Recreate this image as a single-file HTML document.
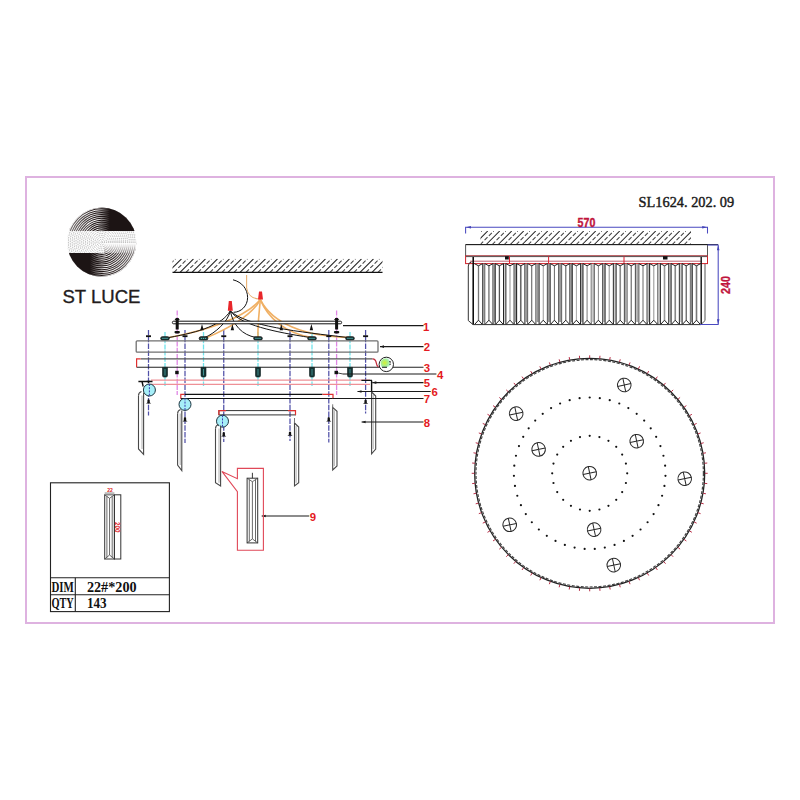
<!DOCTYPE html>
<html><head><meta charset="utf-8"><title>SL1624.202.09</title>
<style>html,body{margin:0;padding:0;background:#fff;}body{width:800px;height:800px;overflow:hidden;font-family:"Liberation Sans",sans-serif;}svg{display:block;}</style>
</head><body>
<svg width="800" height="800" viewBox="0 0 800 800"><rect x="26" y="177" width="748" height="446" fill="none" stroke="#deb2e0" stroke-width="2"/>
<defs><clipPath id="lc"><circle cx="101.7" cy="242.1" r="34.6"/></clipPath><linearGradient id="gu" x1="67" y1="0" x2="136" y2="0" gradientUnits="userSpaceOnUse"><stop offset="0" stop-color="#fff" stop-opacity="0.45"/><stop offset="0.26" stop-color="#fff" stop-opacity="0.2"/><stop offset="0.41" stop-color="#fff" stop-opacity="0"/><stop offset="1" stop-color="#fff" stop-opacity="0"/></linearGradient><linearGradient id="gd" x1="67" y1="0" x2="136" y2="0" gradientUnits="userSpaceOnUse"><stop offset="0" stop-color="#1c1414" stop-opacity="0"/><stop offset="0.435" stop-color="#1c1414" stop-opacity="0"/><stop offset="0.62" stop-color="#1c1414" stop-opacity="1"/><stop offset="1" stop-color="#1c1414" stop-opacity="1"/></linearGradient><linearGradient id="gl" x1="67" y1="0" x2="136" y2="0" gradientUnits="userSpaceOnUse"><stop offset="0" stop-color="#1c1414" stop-opacity="1"/><stop offset="0.33" stop-color="#1c1414" stop-opacity="1"/><stop offset="0.54" stop-color="#1c1414" stop-opacity="0"/><stop offset="1" stop-color="#1c1414" stop-opacity="0"/></linearGradient><linearGradient id="gl2" x1="67" y1="0" x2="136" y2="0" gradientUnits="userSpaceOnUse"><stop offset="0" stop-color="#fff" stop-opacity="0"/><stop offset="0.54" stop-color="#fff" stop-opacity="0"/><stop offset="0.77" stop-color="#fff" stop-opacity="0.2"/><stop offset="1" stop-color="#fff" stop-opacity="0.45"/></linearGradient></defs>
<g clip-path="url(#lc)">
<g><clipPath id="lu"><rect x="60" y="200" width="90" height="31"/></clipPath></g>
<g clip-path="url(#lu)"><g fill="none" stroke="#221818" stroke-width="1.12"><circle cx="101.7" cy="242.1" r="1"/><circle cx="101.7" cy="242.1" r="2.9"/><circle cx="101.7" cy="242.1" r="4.8"/><circle cx="101.7" cy="242.1" r="6.7"/><circle cx="101.7" cy="242.1" r="8.6"/><circle cx="101.7" cy="242.1" r="10.5"/><circle cx="101.7" cy="242.1" r="12.4"/><circle cx="101.7" cy="242.1" r="14.3"/><circle cx="101.7" cy="242.1" r="16.2"/><circle cx="101.7" cy="242.1" r="18.1"/><circle cx="101.7" cy="242.1" r="20"/><circle cx="101.7" cy="242.1" r="21.9"/><circle cx="101.7" cy="242.1" r="23.8"/><circle cx="101.7" cy="242.1" r="25.7"/><circle cx="101.7" cy="242.1" r="27.6"/><circle cx="101.7" cy="242.1" r="29.5"/><circle cx="101.7" cy="242.1" r="31.4"/><circle cx="101.7" cy="242.1" r="33.3"/><circle cx="101.7" cy="242.1" r="35.2"/></g><rect x="60" y="200" width="90" height="31" fill="url(#gu)"/><rect x="60" y="200" width="90" height="31" fill="url(#gd)"/></g>
<g><clipPath id="lm"><rect x="60" y="231" width="90" height="22"/></clipPath></g>
<g clip-path="url(#lm)" opacity="0.5"><g fill="none" stroke="#333" stroke-width="0.9" stroke-dasharray="0.8 0.9"><circle cx="101.7" cy="242.1" r="1"/><circle cx="101.7" cy="242.1" r="2.9"/><circle cx="101.7" cy="242.1" r="4.8"/><circle cx="101.7" cy="242.1" r="6.7"/><circle cx="101.7" cy="242.1" r="8.6"/><circle cx="101.7" cy="242.1" r="10.5"/><circle cx="101.7" cy="242.1" r="12.4"/><circle cx="101.7" cy="242.1" r="14.3"/><circle cx="101.7" cy="242.1" r="16.2"/><circle cx="101.7" cy="242.1" r="18.1"/><circle cx="101.7" cy="242.1" r="20"/><circle cx="101.7" cy="242.1" r="21.9"/><circle cx="101.7" cy="242.1" r="23.8"/><circle cx="101.7" cy="242.1" r="25.7"/><circle cx="101.7" cy="242.1" r="27.6"/><circle cx="101.7" cy="242.1" r="29.5"/><circle cx="101.7" cy="242.1" r="31.4"/><circle cx="101.7" cy="242.1" r="33.3"/><circle cx="101.7" cy="242.1" r="35.2"/></g></g>
<linearGradient id="gbr" x1="0" y1="243" x2="0" y2="253" gradientUnits="userSpaceOnUse"><stop offset="0" stop-color="#fff" stop-opacity="1"/><stop offset="0.3" stop-color="#fff" stop-opacity="0.85"/><stop offset="1" stop-color="#fff" stop-opacity="0.45"/></linearGradient>
<g><clipPath id="lbr"><rect x="104" y="243" width="40" height="10"/></clipPath></g>
<g clip-path="url(#lbr)"><g fill="none" stroke="#221818" stroke-width="1.12"><circle cx="101.7" cy="242.1" r="1"/><circle cx="101.7" cy="242.1" r="2.9"/><circle cx="101.7" cy="242.1" r="4.8"/><circle cx="101.7" cy="242.1" r="6.7"/><circle cx="101.7" cy="242.1" r="8.6"/><circle cx="101.7" cy="242.1" r="10.5"/><circle cx="101.7" cy="242.1" r="12.4"/><circle cx="101.7" cy="242.1" r="14.3"/><circle cx="101.7" cy="242.1" r="16.2"/><circle cx="101.7" cy="242.1" r="18.1"/><circle cx="101.7" cy="242.1" r="20"/><circle cx="101.7" cy="242.1" r="21.9"/><circle cx="101.7" cy="242.1" r="23.8"/><circle cx="101.7" cy="242.1" r="25.7"/><circle cx="101.7" cy="242.1" r="27.6"/><circle cx="101.7" cy="242.1" r="29.5"/><circle cx="101.7" cy="242.1" r="31.4"/><circle cx="101.7" cy="242.1" r="33.3"/><circle cx="101.7" cy="242.1" r="35.2"/></g><rect x="104" y="243" width="40" height="10" fill="url(#gbr)"/></g>
<g><clipPath id="ll"><rect x="60" y="253" width="90" height="30"/></clipPath></g>
<g clip-path="url(#ll)"><g fill="none" stroke="#221818" stroke-width="1.12"><circle cx="101.7" cy="242.1" r="1"/><circle cx="101.7" cy="242.1" r="2.9"/><circle cx="101.7" cy="242.1" r="4.8"/><circle cx="101.7" cy="242.1" r="6.7"/><circle cx="101.7" cy="242.1" r="8.6"/><circle cx="101.7" cy="242.1" r="10.5"/><circle cx="101.7" cy="242.1" r="12.4"/><circle cx="101.7" cy="242.1" r="14.3"/><circle cx="101.7" cy="242.1" r="16.2"/><circle cx="101.7" cy="242.1" r="18.1"/><circle cx="101.7" cy="242.1" r="20"/><circle cx="101.7" cy="242.1" r="21.9"/><circle cx="101.7" cy="242.1" r="23.8"/><circle cx="101.7" cy="242.1" r="25.7"/><circle cx="101.7" cy="242.1" r="27.6"/><circle cx="101.7" cy="242.1" r="29.5"/><circle cx="101.7" cy="242.1" r="31.4"/><circle cx="101.7" cy="242.1" r="33.3"/><circle cx="101.7" cy="242.1" r="35.2"/></g><rect x="60" y="253" width="90" height="30" fill="url(#gl2)"/><rect x="60" y="253" width="90" height="30" fill="url(#gl)"/></g>
</g>
<text x="62.5" y="302.5" font-family="Liberation Sans" font-size="18" fill="#231c1c" stroke="#231c1c" stroke-width="0.35" textLength="78" lengthAdjust="spacingAndGlyphs">ST LUCE</text>
<text x="638.6" y="206.8" font-family="Liberation Serif" font-size="15.6" fill="#1a1a1a" stroke="#1a1a1a" stroke-width="0.45" textLength="95.6" lengthAdjust="spacingAndGlyphs">SL1624. 202. 09</text>
<clipPath id="h2"><rect x="480.5" y="231" width="210.5" height="13.5"/></clipPath><g clip-path="url(#h2)" stroke="#222" stroke-width="1.05"><line x1="462.25" y1="244.5" x2="475.75" y2="231"/><line x1="468.25" y1="244.5" x2="481.75" y2="231" stroke-dasharray="4.2 1.9" stroke="#444"/><line x1="474.25" y1="244.5" x2="487.75" y2="231"/><line x1="480.25" y1="244.5" x2="493.75" y2="231" stroke-dasharray="4.2 1.9" stroke="#444"/><line x1="486.25" y1="244.5" x2="499.75" y2="231"/><line x1="492.25" y1="244.5" x2="505.75" y2="231" stroke-dasharray="4.2 1.9" stroke="#444"/><line x1="498.25" y1="244.5" x2="511.75" y2="231"/><line x1="504.25" y1="244.5" x2="517.75" y2="231" stroke-dasharray="4.2 1.9" stroke="#444"/><line x1="510.25" y1="244.5" x2="523.75" y2="231"/><line x1="516.25" y1="244.5" x2="529.75" y2="231" stroke-dasharray="4.2 1.9" stroke="#444"/><line x1="522.25" y1="244.5" x2="535.75" y2="231"/><line x1="528.25" y1="244.5" x2="541.75" y2="231" stroke-dasharray="4.2 1.9" stroke="#444"/><line x1="534.25" y1="244.5" x2="547.75" y2="231"/><line x1="540.25" y1="244.5" x2="553.75" y2="231" stroke-dasharray="4.2 1.9" stroke="#444"/><line x1="546.25" y1="244.5" x2="559.75" y2="231"/><line x1="552.25" y1="244.5" x2="565.75" y2="231" stroke-dasharray="4.2 1.9" stroke="#444"/><line x1="558.25" y1="244.5" x2="571.75" y2="231"/><line x1="564.25" y1="244.5" x2="577.75" y2="231" stroke-dasharray="4.2 1.9" stroke="#444"/><line x1="570.25" y1="244.5" x2="583.75" y2="231"/><line x1="576.25" y1="244.5" x2="589.75" y2="231" stroke-dasharray="4.2 1.9" stroke="#444"/><line x1="582.25" y1="244.5" x2="595.75" y2="231"/><line x1="588.25" y1="244.5" x2="601.75" y2="231" stroke-dasharray="4.2 1.9" stroke="#444"/><line x1="594.25" y1="244.5" x2="607.75" y2="231"/><line x1="600.25" y1="244.5" x2="613.75" y2="231" stroke-dasharray="4.2 1.9" stroke="#444"/><line x1="606.25" y1="244.5" x2="619.75" y2="231"/><line x1="612.25" y1="244.5" x2="625.75" y2="231" stroke-dasharray="4.2 1.9" stroke="#444"/><line x1="618.25" y1="244.5" x2="631.75" y2="231"/><line x1="624.25" y1="244.5" x2="637.75" y2="231" stroke-dasharray="4.2 1.9" stroke="#444"/><line x1="630.25" y1="244.5" x2="643.75" y2="231"/><line x1="636.25" y1="244.5" x2="649.75" y2="231" stroke-dasharray="4.2 1.9" stroke="#444"/><line x1="642.25" y1="244.5" x2="655.75" y2="231"/><line x1="648.25" y1="244.5" x2="661.75" y2="231" stroke-dasharray="4.2 1.9" stroke="#444"/><line x1="654.25" y1="244.5" x2="667.75" y2="231"/><line x1="660.25" y1="244.5" x2="673.75" y2="231" stroke-dasharray="4.2 1.9" stroke="#444"/><line x1="666.25" y1="244.5" x2="679.75" y2="231"/><line x1="672.25" y1="244.5" x2="685.75" y2="231" stroke-dasharray="4.2 1.9" stroke="#444"/><line x1="678.25" y1="244.5" x2="691.75" y2="231"/><line x1="684.25" y1="244.5" x2="697.75" y2="231" stroke-dasharray="4.2 1.9" stroke="#444"/><line x1="690.25" y1="244.5" x2="703.75" y2="231"/></g>
<rect x="465.6" y="244.6" width="241.9" height="11.4" fill="#fff" stroke="#555" stroke-width="1"/>
<line x1="466" y1="244.6" x2="718" y2="244.6" stroke="#1a1a1a" stroke-width="1"/>
<rect x="465.6" y="256" width="241.9" height="7.6" fill="#fff" stroke="#d02028" stroke-width="1"/>
<line x1="466" y1="256.6" x2="707" y2="256.6" stroke="#555" stroke-width="1"/>
<line x1="470" y1="261.2" x2="702" y2="261.2" stroke="#c06070" stroke-width="1"/>
<rect x="505" y="256.2" width="3.8" height="3.3" fill="#111"/>
<rect x="663" y="256.2" width="4.5" height="3.3" fill="#111"/>
<path d="M468.3,266 Q468.3,262.5 471.5,262 M468.3,266 L468.3,320.6 L473,324.5" fill="none" stroke="#333" stroke-width="1"/><path d="M705,264 L705,320.6 L701,324.5" fill="none" stroke="#555" stroke-width="1"/><line x1="473.2" y1="257" x2="473.2" y2="324.5" stroke="#000" stroke-width="1.5"/><line x1="701.2" y1="257" x2="701.2" y2="324.5" stroke="#111" stroke-width="1.4"/><line x1="482.65" y1="263.6" x2="482.65" y2="324.4" stroke="#444" stroke-width="1.1"/><line x1="478.5" y1="265.5" x2="478.5" y2="320.5" stroke="#777" stroke-width="1.3"/><line x1="483.7" y1="264" x2="483.7" y2="322" stroke="#999" stroke-width="1.2"/><path d="M474.35,263.6 L478.5,265.8 L482.65,263.6 M474.65,324.4 L478.5,320.2 L482.35,324.4" fill="none" stroke="#222" stroke-width="1"/><line x1="484.75" y1="263.6" x2="484.75" y2="324.4" stroke="#666" stroke-width="1.1"/><line x1="493.05" y1="263.6" x2="493.05" y2="324.4" stroke="#222" stroke-width="1.1"/><line x1="488.9" y1="265.5" x2="488.9" y2="320.5" stroke="#888" stroke-width="1.6"/><line x1="494.15" y1="264" x2="494.15" y2="322" stroke="#999" stroke-width="2.2"/><path d="M484.75,263.6 L488.9,265.8 L493.05,263.6 M485.05,324.4 L488.9,320.2 L492.75,324.4" fill="none" stroke="#222" stroke-width="1"/><line x1="495.25" y1="263.6" x2="495.25" y2="324.4" stroke="#333" stroke-width="1.1"/><line x1="503.55" y1="263.6" x2="503.55" y2="324.4" stroke="#222" stroke-width="1.1"/><line x1="499.4" y1="265.5" x2="499.4" y2="320.5" stroke="#555" stroke-width="1.3"/><line x1="504.7" y1="264" x2="504.7" y2="322" stroke="#ccc" stroke-width="1.2"/><path d="M495.25,263.6 L499.4,265.8 L503.55,263.6 M495.55,324.4 L499.4,320.2 L503.25,324.4" fill="none" stroke="#222" stroke-width="1"/><line x1="505.85" y1="263.6" x2="505.85" y2="324.4" stroke="#333" stroke-width="1.1"/><line x1="514.15" y1="263.6" x2="514.15" y2="324.4" stroke="#222" stroke-width="1.1"/><line x1="510" y1="265.5" x2="510" y2="320.5" stroke="#aaa" stroke-width="1.3"/><line x1="515.38" y1="264" x2="515.38" y2="322" stroke="#999" stroke-width="2.2"/><path d="M505.85,263.6 L510,265.8 L514.15,263.6 M506.15,324.4 L510,320.2 L513.85,324.4" fill="none" stroke="#222" stroke-width="1"/><line x1="516.6" y1="263.6" x2="516.6" y2="324.4" stroke="#222" stroke-width="1.1"/><line x1="524.9" y1="263.6" x2="524.9" y2="324.4" stroke="#333" stroke-width="1.1"/><line x1="520.75" y1="265.5" x2="520.75" y2="320.5" stroke="#666" stroke-width="1.6"/><line x1="526.25" y1="264" x2="526.25" y2="322" stroke="#999" stroke-width="2.2"/><path d="M516.6,263.6 L520.75,265.8 L524.9,263.6 M516.9,324.4 L520.75,320.2 L524.6,324.4" fill="none" stroke="#222" stroke-width="1"/><line x1="527.6" y1="263.6" x2="527.6" y2="324.4" stroke="#666" stroke-width="1.1"/><line x1="535.9" y1="263.6" x2="535.9" y2="324.4" stroke="#555" stroke-width="1.1"/><line x1="531.75" y1="265.5" x2="531.75" y2="320.5" stroke="#555" stroke-width="1"/><line x1="537.5" y1="264" x2="537.5" y2="322" stroke="#999" stroke-width="2.2"/><path d="M527.6,263.6 L531.75,265.8 L535.9,263.6 M527.9,324.4 L531.75,320.2 L535.6,324.4" fill="none" stroke="#222" stroke-width="1"/><line x1="539.1" y1="263.6" x2="539.1" y2="324.4" stroke="#333" stroke-width="1.1"/><line x1="547.4" y1="263.6" x2="547.4" y2="324.4" stroke="#444" stroke-width="1.1"/><line x1="543.25" y1="265.5" x2="543.25" y2="320.5" stroke="#999" stroke-width="1"/><line x1="548.83" y1="264" x2="548.83" y2="322" stroke="#999" stroke-width="2.2"/><path d="M539.1,263.6 L543.25,265.8 L547.4,263.6 M539.4,324.4 L543.25,320.2 L547.1,324.4" fill="none" stroke="#222" stroke-width="1"/><line x1="550.25" y1="263.6" x2="550.25" y2="324.4" stroke="#444" stroke-width="1.1"/><line x1="558.55" y1="263.6" x2="558.55" y2="324.4" stroke="#666" stroke-width="1.1"/><line x1="554.4" y1="265.5" x2="554.4" y2="320.5" stroke="#666" stroke-width="1"/><line x1="560.08" y1="264" x2="560.08" y2="322" stroke="#999" stroke-width="2.2"/><path d="M550.25,263.6 L554.4,265.8 L558.55,263.6 M550.55,324.4 L554.4,320.2 L558.25,324.4" fill="none" stroke="#222" stroke-width="1"/><line x1="561.6" y1="263.6" x2="561.6" y2="324.4" stroke="#666" stroke-width="1.1"/><line x1="569.9" y1="263.6" x2="569.9" y2="324.4" stroke="#2a2a2a" stroke-width="1.1"/><line x1="565.75" y1="265.5" x2="565.75" y2="320.5" stroke="#777" stroke-width="1.3"/><line x1="571.08" y1="264" x2="571.08" y2="322" stroke="#999" stroke-width="2.2"/><path d="M561.6,263.6 L565.75,265.8 L569.9,263.6 M561.9,324.4 L565.75,320.2 L569.6,324.4" fill="none" stroke="#222" stroke-width="1"/><line x1="572.25" y1="263.6" x2="572.25" y2="324.4" stroke="#2a2a2a" stroke-width="1.1"/><line x1="580.55" y1="263.6" x2="580.55" y2="324.4" stroke="#222" stroke-width="1.1"/><line x1="576.4" y1="265.5" x2="576.4" y2="320.5" stroke="#aaa" stroke-width="1"/><line x1="581.75" y1="264" x2="581.75" y2="322" stroke="#aaa" stroke-width="1.8"/><path d="M572.25,263.6 L576.4,265.8 L580.55,263.6 M572.55,324.4 L576.4,320.2 L580.25,324.4" fill="none" stroke="#222" stroke-width="1"/><line x1="582.95" y1="263.6" x2="582.95" y2="324.4" stroke="#2a2a2a" stroke-width="1.1"/><line x1="591.25" y1="263.6" x2="591.25" y2="324.4" stroke="#666" stroke-width="1.1"/><line x1="587.1" y1="265.5" x2="587.1" y2="320.5" stroke="#999" stroke-width="1.3"/><line x1="592.75" y1="264" x2="592.75" y2="322" stroke="#ccc" stroke-width="2.2"/><path d="M582.95,263.6 L587.1,265.8 L591.25,263.6 M583.25,324.4 L587.1,320.2 L590.95,324.4" fill="none" stroke="#222" stroke-width="1"/><line x1="594.25" y1="263.6" x2="594.25" y2="324.4" stroke="#555" stroke-width="1.1"/><line x1="602.55" y1="263.6" x2="602.55" y2="324.4" stroke="#444" stroke-width="1.1"/><line x1="598.4" y1="265.5" x2="598.4" y2="320.5" stroke="#888" stroke-width="1"/><line x1="603.83" y1="264" x2="603.83" y2="322" stroke="#aaa" stroke-width="2.2"/><path d="M594.25,263.6 L598.4,265.8 L602.55,263.6 M594.55,324.4 L598.4,320.2 L602.25,324.4" fill="none" stroke="#222" stroke-width="1"/><line x1="605.1" y1="263.6" x2="605.1" y2="324.4" stroke="#333" stroke-width="1.1"/><line x1="613.4" y1="263.6" x2="613.4" y2="324.4" stroke="#222" stroke-width="1.1"/><line x1="609.25" y1="265.5" x2="609.25" y2="320.5" stroke="#aaa" stroke-width="1.3"/><line x1="614.75" y1="264" x2="614.75" y2="322" stroke="#ccc" stroke-width="1.8"/><path d="M605.1,263.6 L609.25,265.8 L613.4,263.6 M605.4,324.4 L609.25,320.2 L613.1,324.4" fill="none" stroke="#222" stroke-width="1"/><line x1="616.1" y1="263.6" x2="616.1" y2="324.4" stroke="#2a2a2a" stroke-width="1.1"/><line x1="624.4" y1="263.6" x2="624.4" y2="324.4" stroke="#555" stroke-width="1.1"/><line x1="620.25" y1="265.5" x2="620.25" y2="320.5" stroke="#888" stroke-width="1.6"/><line x1="625.75" y1="264" x2="625.75" y2="322" stroke="#999" stroke-width="1.2"/><path d="M616.1,263.6 L620.25,265.8 L624.4,263.6 M616.4,324.4 L620.25,320.2 L624.1,324.4" fill="none" stroke="#222" stroke-width="1"/><line x1="627.1" y1="263.6" x2="627.1" y2="324.4" stroke="#666" stroke-width="1.1"/><line x1="635.4" y1="263.6" x2="635.4" y2="324.4" stroke="#555" stroke-width="1.1"/><line x1="631.25" y1="265.5" x2="631.25" y2="320.5" stroke="#777" stroke-width="1.3"/><line x1="637.12" y1="264" x2="637.12" y2="322" stroke="#aaa" stroke-width="1.8"/><path d="M627.1,263.6 L631.25,265.8 L635.4,263.6 M627.4,324.4 L631.25,320.2 L635.1,324.4" fill="none" stroke="#222" stroke-width="1"/><line x1="638.85" y1="263.6" x2="638.85" y2="324.4" stroke="#555" stroke-width="1.1"/><line x1="647.15" y1="263.6" x2="647.15" y2="324.4" stroke="#222" stroke-width="1.1"/><line x1="643" y1="265.5" x2="643" y2="320.5" stroke="#666" stroke-width="1"/><line x1="648.38" y1="264" x2="648.38" y2="322" stroke="#bbb" stroke-width="1.8"/><path d="M638.85,263.6 L643,265.8 L647.15,263.6 M639.15,324.4 L643,320.2 L646.85,324.4" fill="none" stroke="#222" stroke-width="1"/><line x1="649.6" y1="263.6" x2="649.6" y2="324.4" stroke="#2a2a2a" stroke-width="1.1"/><line x1="657.9" y1="263.6" x2="657.9" y2="324.4" stroke="#444" stroke-width="1.1"/><line x1="653.75" y1="265.5" x2="653.75" y2="320.5" stroke="#aaa" stroke-width="1.3"/><line x1="659.12" y1="264" x2="659.12" y2="322" stroke="#ccc" stroke-width="1.2"/><path d="M649.6,263.6 L653.75,265.8 L657.9,263.6 M649.9,324.4 L653.75,320.2 L657.6,324.4" fill="none" stroke="#222" stroke-width="1"/><line x1="660.35" y1="263.6" x2="660.35" y2="324.4" stroke="#222" stroke-width="1.1"/><line x1="668.65" y1="263.6" x2="668.65" y2="324.4" stroke="#444" stroke-width="1.1"/><line x1="664.5" y1="265.5" x2="664.5" y2="320.5" stroke="#999" stroke-width="1.6"/><line x1="669.88" y1="264" x2="669.88" y2="322" stroke="#999" stroke-width="1.2"/><path d="M660.35,263.6 L664.5,265.8 L668.65,263.6 M660.65,324.4 L664.5,320.2 L668.35,324.4" fill="none" stroke="#222" stroke-width="1"/><line x1="671.1" y1="263.6" x2="671.1" y2="324.4" stroke="#2a2a2a" stroke-width="1.1"/><line x1="679.4" y1="263.6" x2="679.4" y2="324.4" stroke="#2a2a2a" stroke-width="1.1"/><line x1="675.25" y1="265.5" x2="675.25" y2="320.5" stroke="#888" stroke-width="1.6"/><line x1="680.75" y1="264" x2="680.75" y2="322" stroke="#ccc" stroke-width="1.8"/><path d="M671.1,263.6 L675.25,265.8 L679.4,263.6 M671.4,324.4 L675.25,320.2 L679.1,324.4" fill="none" stroke="#222" stroke-width="1"/><line x1="682.1" y1="263.6" x2="682.1" y2="324.4" stroke="#2a2a2a" stroke-width="1.1"/><line x1="690.4" y1="263.6" x2="690.4" y2="324.4" stroke="#555" stroke-width="1.1"/><line x1="686.25" y1="265.5" x2="686.25" y2="320.5" stroke="#666" stroke-width="1.3"/><line x1="691.38" y1="264" x2="691.38" y2="322" stroke="#999" stroke-width="1.8"/><path d="M682.1,263.6 L686.25,265.8 L690.4,263.6 M682.4,324.4 L686.25,320.2 L690.1,324.4" fill="none" stroke="#222" stroke-width="1"/><line x1="692.35" y1="263.6" x2="692.35" y2="324.4" stroke="#444" stroke-width="1.1"/><line x1="696.5" y1="265.5" x2="696.5" y2="320.5" stroke="#777" stroke-width="1.6"/><path d="M692.35,263.6 L696.5,265.8 L700.65,263.6 M692.65,324.4 L696.5,320.2 L700.35,324.4" fill="none" stroke="#222" stroke-width="1"/><line x1="473" y1="324.6" x2="701" y2="324.6" stroke="#333" stroke-width="1"/>
<path d="M509.5,256.5 V263 M548.6,256.5 V263 M624,256.5 V263" stroke="#e02030" stroke-width="1"/>
<g stroke="#4a4ac0" stroke-width="1.05" fill="none"><path d="M465.6,233.5 L465.6,227.3 L707.5,227.3 L707.5,233.5"/><path d="M707.5,245 L718.2,245 L718.2,324.5 L700,324.5"/></g>
<path d="M466,227.3 l5,-1.3 l0,2.6z M707.2,227.3 l-5,-1.3 l0,2.6z M718.2,245.3 l-1.3,5 l2.6,0z M718.2,324.2 l-1.3,-5 l2.6,0z" fill="#4444b8"/>
<text x="586.5" y="227" text-anchor="middle" font-family="Liberation Sans" font-weight="bold" font-size="12.4" fill="#c0143c" stroke="#c0143c" stroke-width="0.35" textLength="17.8" lengthAdjust="spacingAndGlyphs">570</text>
<text transform="translate(730.2,285) rotate(-90)" text-anchor="middle" font-family="Liberation Sans" font-weight="bold" font-size="12.4" fill="#c0143c" stroke="#c0143c" stroke-width="0.35" textLength="18" lengthAdjust="spacingAndGlyphs">240</text>
<circle cx="589.7" cy="473.3" r="115" fill="none" stroke="#222" stroke-width="1.3"/>
<circle cx="589.7" cy="473.3" r="113.7" fill="none" stroke="#444" stroke-width="1.2" stroke-dasharray="3 1.5"/>
<path d="M704.9,473.3L707.7,473.3M704.46,483.34L707.25,483.58M703.15,493.3L705.91,493.79M700.97,503.12L703.68,503.84M697.95,512.7L700.58,513.66M694.11,521.99L696.64,523.17M689.47,530.9L691.89,532.3M684.07,539.38L686.36,540.98M677.95,547.35L680.09,549.15M671.16,554.76L673.14,556.74M663.75,561.55L665.55,563.69M655.78,567.67L657.38,569.96M647.3,573.07L648.7,575.49M638.39,577.71L639.57,580.24M629.1,581.55L630.06,584.18M619.52,584.57L620.24,587.28M609.7,586.75L610.19,589.51M599.74,588.06L599.98,590.85M589.7,588.5L589.7,591.3M579.66,588.06L579.42,590.85M569.7,586.75L569.21,589.51M559.88,584.57L559.16,587.28M550.3,581.55L549.34,584.18M541.01,577.71L539.83,580.24M532.1,573.07L530.7,575.49M523.62,567.67L522.02,569.96M515.65,561.55L513.85,563.69M508.24,554.76L506.26,556.74M501.45,547.35L499.31,549.15M495.33,539.38L493.04,540.98M489.93,530.9L487.51,532.3M485.29,521.99L482.76,523.17M481.45,512.7L478.82,513.66M478.43,503.12L475.72,503.84M476.25,493.3L473.49,493.79M474.94,483.34L472.15,483.58M474.5,473.3L471.7,473.3M474.94,463.26L472.15,463.02M476.25,453.3L473.49,452.81M478.43,443.48L475.72,442.76M481.45,433.9L478.82,432.94M485.29,424.61L482.76,423.43M489.93,415.7L487.51,414.3M495.33,407.22L493.04,405.62M501.45,399.25L499.31,397.45M508.24,391.84L506.26,389.86M515.65,385.05L513.85,382.91M523.62,378.93L522.02,376.64M532.1,373.53L530.7,371.11M541.01,368.89L539.83,366.36M550.3,365.05L549.34,362.42M559.88,362.03L559.16,359.32M569.7,359.85L569.21,357.09M579.66,358.54L579.42,355.75M589.7,358.1L589.7,355.3M599.74,358.54L599.98,355.75M609.7,359.85L610.19,357.09M619.52,362.03L620.24,359.32M629.1,365.05L630.06,362.42M638.39,368.89L639.57,366.36M647.3,373.53L648.7,371.11M655.78,378.93L657.38,376.64M663.75,385.05L665.55,382.91M671.16,391.84L673.14,389.86M677.95,399.25L680.09,397.45M684.07,407.22L686.36,405.62M689.47,415.7L691.89,414.3M694.11,424.61L696.64,423.43M697.95,433.9L700.58,432.94M700.97,443.48L703.68,442.76M703.15,453.3L705.91,452.81M704.46,463.26L707.25,463.02" stroke="#b83048" stroke-width="1" fill="none"/>
<g fill="#111"><circle cx="589.7" cy="435.8" r="1.1"/><circle cx="599.41" cy="437.08" r="1.1"/><circle cx="608.45" cy="440.82" r="1.1"/><circle cx="616.22" cy="446.78" r="1.1"/><circle cx="622.18" cy="454.55" r="1.1"/><circle cx="625.92" cy="463.59" r="1.1"/><circle cx="627.2" cy="473.3" r="1.1"/><circle cx="625.92" cy="483.01" r="1.1"/><circle cx="622.18" cy="492.05" r="1.1"/><circle cx="616.22" cy="499.82" r="1.1"/><circle cx="608.45" cy="505.78" r="1.1"/><circle cx="599.41" cy="509.52" r="1.1"/><circle cx="589.7" cy="510.8" r="1.1"/><circle cx="579.99" cy="509.52" r="1.1"/><circle cx="570.95" cy="505.78" r="1.1"/><circle cx="563.18" cy="499.82" r="1.1"/><circle cx="557.22" cy="492.05" r="1.1"/><circle cx="553.48" cy="483.01" r="1.1"/><circle cx="552.2" cy="473.3" r="1.1"/><circle cx="553.48" cy="463.59" r="1.1"/><circle cx="557.22" cy="454.55" r="1.1"/><circle cx="563.18" cy="446.78" r="1.1"/><circle cx="570.95" cy="440.82" r="1.1"/><circle cx="579.99" cy="437.08" r="1.1"/><circle cx="589.7" cy="397.5" r="1.1"/><circle cx="599.8" cy="398.18" r="1.1"/><circle cx="609.73" cy="400.19" r="1.1"/><circle cx="619.29" cy="403.51" r="1.1"/><circle cx="628.33" cy="408.08" r="1.1"/><circle cx="636.68" cy="413.81" r="1.1"/><circle cx="644.19" cy="420.6" r="1.1"/><circle cx="650.72" cy="428.34" r="1.1"/><circle cx="656.17" cy="436.87" r="1.1"/><circle cx="660.44" cy="446.06" r="1.1"/><circle cx="663.44" cy="455.73" r="1.1"/><circle cx="665.12" cy="465.71" r="1.1"/><circle cx="665.46" cy="475.83" r="1.1"/><circle cx="664.44" cy="485.91" r="1.1"/><circle cx="662.1" cy="495.76" r="1.1"/><circle cx="658.46" cy="505.21" r="1.1"/><circle cx="653.59" cy="514.09" r="1.1"/><circle cx="647.58" cy="522.24" r="1.1"/><circle cx="640.55" cy="529.52" r="1.1"/><circle cx="632.6" cy="535.79" r="1.1"/><circle cx="623.89" cy="540.95" r="1.1"/><circle cx="614.56" cy="544.91" r="1.1"/><circle cx="604.8" cy="547.58" r="1.1"/><circle cx="594.76" cy="548.93" r="1.1"/><circle cx="584.64" cy="548.93" r="1.1"/><circle cx="574.6" cy="547.58" r="1.1"/><circle cx="564.84" cy="544.91" r="1.1"/><circle cx="555.51" cy="540.95" r="1.1"/><circle cx="546.8" cy="535.79" r="1.1"/><circle cx="538.85" cy="529.52" r="1.1"/><circle cx="531.82" cy="522.24" r="1.1"/><circle cx="525.81" cy="514.09" r="1.1"/><circle cx="520.94" cy="505.21" r="1.1"/><circle cx="517.3" cy="495.76" r="1.1"/><circle cx="514.96" cy="485.91" r="1.1"/><circle cx="513.94" cy="475.83" r="1.1"/><circle cx="514.28" cy="465.71" r="1.1"/><circle cx="515.96" cy="455.73" r="1.1"/><circle cx="518.96" cy="446.06" r="1.1"/><circle cx="523.23" cy="436.87" r="1.1"/><circle cx="528.68" cy="428.34" r="1.1"/><circle cx="535.21" cy="420.6" r="1.1"/><circle cx="542.72" cy="413.81" r="1.1"/><circle cx="551.07" cy="408.08" r="1.1"/><circle cx="560.11" cy="403.51" r="1.1"/><circle cx="569.67" cy="400.19" r="1.1"/><circle cx="579.6" cy="398.18" r="1.1"/></g>
<g fill="none" stroke="#2a2a2a" stroke-width="1"><g transform="translate(624.3,385) rotate(-12)"><circle r="6.8"/><path d="M0,-6.8V6.8M-6.8,0H6.8"/></g><g transform="translate(516.2,413.6) rotate(-12)"><circle r="6.8"/><path d="M0,-6.8V6.8M-6.8,0H6.8"/></g><g transform="translate(636.7,441.2) rotate(-12)"><circle r="6.8"/><path d="M0,-6.8V6.8M-6.8,0H6.8"/></g><g transform="translate(538.6,449.4) rotate(-12)"><circle r="6.8"/><path d="M0,-6.8V6.8M-6.8,0H6.8"/></g><g transform="translate(589.7,473.2) rotate(-12)"><circle r="6.8"/><path d="M0,-6.8V6.8M-6.8,0H6.8"/></g><g transform="translate(684.7,478.7) rotate(-12)"><circle r="6.8"/><path d="M0,-6.8V6.8M-6.8,0H6.8"/></g><g transform="translate(509.7,524.8) rotate(-12)"><circle r="6.8"/><path d="M0,-6.8V6.8M-6.8,0H6.8"/></g><g transform="translate(594.1,529.6) rotate(-12)"><circle r="6.8"/><path d="M0,-6.8V6.8M-6.8,0H6.8"/></g><g transform="translate(613.8,565.1) rotate(-12)"><circle r="6.8"/><path d="M0,-6.8V6.8M-6.8,0H6.8"/></g></g>
<clipPath id="h1"><rect x="172.5" y="258.8" width="210" height="13.5"/></clipPath><g clip-path="url(#h1)" stroke="#222" stroke-width="1.05"><line x1="156" y1="272.3" x2="169.5" y2="258.8"/><line x1="162" y1="272.3" x2="175.5" y2="258.8" stroke-dasharray="4.2 1.9" stroke="#444"/><line x1="168" y1="272.3" x2="181.5" y2="258.8"/><line x1="174" y1="272.3" x2="187.5" y2="258.8" stroke-dasharray="4.2 1.9" stroke="#444"/><line x1="180" y1="272.3" x2="193.5" y2="258.8"/><line x1="186" y1="272.3" x2="199.5" y2="258.8" stroke-dasharray="4.2 1.9" stroke="#444"/><line x1="192" y1="272.3" x2="205.5" y2="258.8"/><line x1="198" y1="272.3" x2="211.5" y2="258.8" stroke-dasharray="4.2 1.9" stroke="#444"/><line x1="204" y1="272.3" x2="217.5" y2="258.8"/><line x1="210" y1="272.3" x2="223.5" y2="258.8" stroke-dasharray="4.2 1.9" stroke="#444"/><line x1="216" y1="272.3" x2="229.5" y2="258.8"/><line x1="222" y1="272.3" x2="235.5" y2="258.8" stroke-dasharray="4.2 1.9" stroke="#444"/><line x1="228" y1="272.3" x2="241.5" y2="258.8"/><line x1="234" y1="272.3" x2="247.5" y2="258.8" stroke-dasharray="4.2 1.9" stroke="#444"/><line x1="240" y1="272.3" x2="253.5" y2="258.8"/><line x1="246" y1="272.3" x2="259.5" y2="258.8" stroke-dasharray="4.2 1.9" stroke="#444"/><line x1="252" y1="272.3" x2="265.5" y2="258.8"/><line x1="258" y1="272.3" x2="271.5" y2="258.8" stroke-dasharray="4.2 1.9" stroke="#444"/><line x1="264" y1="272.3" x2="277.5" y2="258.8"/><line x1="270" y1="272.3" x2="283.5" y2="258.8" stroke-dasharray="4.2 1.9" stroke="#444"/><line x1="276" y1="272.3" x2="289.5" y2="258.8"/><line x1="282" y1="272.3" x2="295.5" y2="258.8" stroke-dasharray="4.2 1.9" stroke="#444"/><line x1="288" y1="272.3" x2="301.5" y2="258.8"/><line x1="294" y1="272.3" x2="307.5" y2="258.8" stroke-dasharray="4.2 1.9" stroke="#444"/><line x1="300" y1="272.3" x2="313.5" y2="258.8"/><line x1="306" y1="272.3" x2="319.5" y2="258.8" stroke-dasharray="4.2 1.9" stroke="#444"/><line x1="312" y1="272.3" x2="325.5" y2="258.8"/><line x1="318" y1="272.3" x2="331.5" y2="258.8" stroke-dasharray="4.2 1.9" stroke="#444"/><line x1="324" y1="272.3" x2="337.5" y2="258.8"/><line x1="330" y1="272.3" x2="343.5" y2="258.8" stroke-dasharray="4.2 1.9" stroke="#444"/><line x1="336" y1="272.3" x2="349.5" y2="258.8"/><line x1="342" y1="272.3" x2="355.5" y2="258.8" stroke-dasharray="4.2 1.9" stroke="#444"/><line x1="348" y1="272.3" x2="361.5" y2="258.8"/><line x1="354" y1="272.3" x2="367.5" y2="258.8" stroke-dasharray="4.2 1.9" stroke="#444"/><line x1="360" y1="272.3" x2="373.5" y2="258.8"/><line x1="366" y1="272.3" x2="379.5" y2="258.8" stroke-dasharray="4.2 1.9" stroke="#444"/><line x1="372" y1="272.3" x2="385.5" y2="258.8"/><line x1="378" y1="272.3" x2="391.5" y2="258.8" stroke-dasharray="4.2 1.9" stroke="#444"/><line x1="384" y1="272.3" x2="397.5" y2="258.8"/></g>
<line x1="172.5" y1="272.3" x2="382.5" y2="272.3" stroke="#111" stroke-width="1.3"/>
<g stroke="#70e4ec" stroke-width="1.3" stroke-dasharray="5 1.2"><line x1="165" y1="332" x2="165" y2="386"/><line x1="203.5" y1="332" x2="203.5" y2="386"/><line x1="258" y1="332" x2="258" y2="386"/><line x1="312" y1="332" x2="312" y2="386"/><line x1="350" y1="332" x2="350" y2="386"/></g>
<g stroke="#5050a8" stroke-width="1.25" stroke-dasharray="5.5 1.3"><line x1="148.5" y1="330" x2="148.5" y2="415.6"/><line x1="185" y1="330" x2="185" y2="443"/><line x1="223.75" y1="330" x2="223.75" y2="442"/><line x1="290" y1="330" x2="290" y2="441"/><line x1="328.8" y1="330" x2="328.8" y2="442.5"/><line x1="365.6" y1="330" x2="365.6" y2="413.5"/></g>
<g stroke="#e086e4" stroke-width="1.3" stroke-dasharray="5 1.2"><line x1="177.2" y1="310.5" x2="177.2" y2="395"/><line x1="336.6" y1="310.5" x2="336.6" y2="395"/></g>
<path d="M233,279.8 C242,282 247.6,289 247.6,297.5 C247.6,306 241,312.3 233.5,312.3" fill="none" stroke="#111" stroke-width="1"/><path d="M246.6,275 L246.6,288 C247.5,294 252,298.5 259,299" fill="none" stroke="#e8b070" stroke-width="1.1"/><path d="M260.3,299.6 C245,318 205,331 169,337.5" fill="none" stroke="#f0b064" stroke-width="1.6"/><path d="M260.3,299.6 C252,316 225,330 207,337.5" fill="none" stroke="#f0b064" stroke-width="1.6"/><path d="M260.3,299.6 C259,315 257.5,325 258,337.5" fill="none" stroke="#f0b064" stroke-width="1.6"/><path d="M260.3,299.6 C268,318 285,333 312,337.5" fill="none" stroke="#f0b064" stroke-width="1.6"/><path d="M260.3,299.6 C272,322 300,336 350,337.5" fill="none" stroke="#f0b064" stroke-width="1.6"/><path d="M230.3,310.8 C222,325 200,332 169,337.5" fill="none" stroke="#151515" stroke-width="1"/><path d="M230.3,310.8 C228,322 215,333 205,337.5" fill="none" stroke="#151515" stroke-width="1"/><path d="M230.3,310.8 C233,325 242,335 256,337.5" fill="none" stroke="#151515" stroke-width="1"/><path d="M230.3,310.8 C240,325 275,332 310,337.5" fill="none" stroke="#151515" stroke-width="1"/><path d="M230.3,310.8 C245,326 300,332 348,337.5" fill="none" stroke="#151515" stroke-width="1"/>
<path d="M228.8,301 L231.8,301 L232.8,310.8 L227.8,310.8Z M259,291.6 L262,291.6 L263,299.6 L258,299.6Z" fill="#e8262a"/>
<rect x="172.4" y="321.2" width="169.2" height="2.6" rx="1.2" fill="#fff" stroke="#111" stroke-width="1"/>
<g fill="#111"><path d="M202,324 L200.3,330.3 L203.7,330.3Z"/><path d="M232.4,324 L230.7,330.3 L234.1,330.3Z"/><path d="M281.3,324 L279.6,330.3 L283,330.3Z"/><path d="M311.4,324 L309.7,330.3 L313.1,330.3Z"/></g>
<g fill="#111"><rect x="175.7" y="318" width="3" height="11.5" /><path d="M174.5,320 Q177.2,315.8 179.9,320Z"/><rect x="174.5" y="331" width="5.4" height="2.4" rx="1.1"/></g>
<g fill="#111"><rect x="335.1" y="318" width="3" height="11.5" /><path d="M333.9,320 Q336.6,315.8 339.3,320Z"/><rect x="333.9" y="331" width="5.4" height="2.4" rx="1.1"/></g>
<g fill="#111"><rect x="146" y="335.3" width="5" height="1.8"/><rect x="182.5" y="335.3" width="5" height="1.8"/><rect x="221.25" y="335.3" width="5" height="1.8"/><rect x="287.5" y="335.3" width="5" height="1.8"/><rect x="326.3" y="335.3" width="5" height="1.8"/><rect x="363.1" y="335.3" width="5" height="1.8"/></g>
<g><rect x="160.7" y="336.7" width="8.6" height="3.4" rx="1.6" fill="#1c3c3c" stroke="#111" stroke-width="0.8"/><line x1="162.4" y1="338.4" x2="167.6" y2="338.4" stroke="#6fe0e0" stroke-width="0.8" stroke-dasharray="1.2 0.8"/><rect x="199.2" y="336.7" width="8.6" height="3.4" rx="1.6" fill="#1c3c3c" stroke="#111" stroke-width="0.8"/><line x1="200.9" y1="338.4" x2="206.1" y2="338.4" stroke="#6fe0e0" stroke-width="0.8" stroke-dasharray="1.2 0.8"/><rect x="253.7" y="336.7" width="8.6" height="3.4" rx="1.6" fill="#1c3c3c" stroke="#111" stroke-width="0.8"/><line x1="255.4" y1="338.4" x2="260.6" y2="338.4" stroke="#6fe0e0" stroke-width="0.8" stroke-dasharray="1.2 0.8"/><rect x="307.7" y="336.7" width="8.6" height="3.4" rx="1.6" fill="#1c3c3c" stroke="#111" stroke-width="0.8"/><line x1="309.4" y1="338.4" x2="314.6" y2="338.4" stroke="#6fe0e0" stroke-width="0.8" stroke-dasharray="1.2 0.8"/><rect x="345.7" y="336.7" width="8.6" height="3.4" rx="1.6" fill="#1c3c3c" stroke="#111" stroke-width="0.8"/><line x1="347.4" y1="338.4" x2="352.6" y2="338.4" stroke="#6fe0e0" stroke-width="0.8" stroke-dasharray="1.2 0.8"/></g>
<rect x="136.2" y="340.8" width="241.8" height="11.4" rx="1" fill="none" stroke="#707070" stroke-width="1.3"/>
<path d="M140.6,358.9 L372.5,358.9" stroke="#555" stroke-width="1.1" fill="none"/>
<path d="M136.6,367.2 L423.5,367.2" stroke="#222" stroke-width="1.1" fill="none"/>
<path d="M140.6,358.9 L136.6,358.9 L136.6,367.2" stroke="#e03030" stroke-width="1.2" fill="none"/>
<path d="M372.5,358.9 C375,359 376,361 376.3,363 C376.6,365 377.3,366.5 378.5,367" stroke="#c02838" stroke-width="1.3" fill="none"/>
<g fill="#163434" stroke="#0c1c1c" stroke-width="0.6"><path d="M162.5,367.4 L167.5,367.4 L167.5,375.6 Q167.5,377 166.2,377 L163.8,377 Q162.5,377 162.5,375.6Z"/><path d="M201,367.4 L206,367.4 L206,375.6 Q206,377 204.7,377 L202.3,377 Q201,377 201,375.6Z"/><path d="M255.5,367.4 L260.5,367.4 L260.5,375.6 Q260.5,377 259.2,377 L256.8,377 Q255.5,377 255.5,375.6Z"/><path d="M309.5,367.4 L314.5,367.4 L314.5,375.6 Q314.5,377 313.2,377 L310.8,377 Q309.5,377 309.5,375.6Z"/><path d="M347.5,367.4 L352.5,367.4 L352.5,375.6 Q352.5,377 351.2,377 L348.8,377 Q347.5,377 347.5,375.6Z"/></g>
<g stroke="#5acaca" stroke-width="0.6"><line x1="165" y1="369" x2="165" y2="375.5"/><line x1="203.5" y1="369" x2="203.5" y2="375.5"/><line x1="258" y1="369" x2="258" y2="375.5"/><line x1="312" y1="369" x2="312" y2="375.5"/><line x1="350" y1="369" x2="350" y2="375.5"/></g>
<rect x="175.2" y="370.8" width="3.5" height="3.4" fill="#111"/><rect x="334.5" y="370.8" width="3.5" height="3.4" fill="#111"/>
<line x1="338" y1="373" x2="343" y2="374" stroke="#111" stroke-width="0.8"/>
<g stroke="#ee9096" stroke-width="1.3"><line x1="151" y1="380.2" x2="370" y2="380.2"/><line x1="151" y1="384.3" x2="370" y2="384.3"/></g>
<g stroke="#111" stroke-width="1.4" fill="none"><path d="M138.4,381.5 L152.5,381.5 M142,381.5 L143.2,386.5"/><path d="M361.4,380.4 L372,380.4 M371.6,380.4 L371.6,392"/></g>
<path d="M146.6,380.8 L150.4,380.8 L148.5,383.5Z" fill="#111"/>
<path d="M184.5,394.4 L322.5,394.4 M180.6,398.5 L333,398.5" stroke="#111" stroke-width="1.1" fill="none"/>
<path d="M184.5,394.4 L180.8,394.4 L180.8,398.5 M322.5,394.4 L333,394.4 L333,398.5" stroke="#e03030" stroke-width="1.2" fill="none"/>
<rect x="218.9" y="410.6" width="76.6" height="4.3" fill="none" stroke="#333" stroke-width="1"/>
<path d="M226,410.6 L218.9,410.6 L218.9,414.9 M288,410.6 L295.5,410.6 L295.5,414.9" stroke="#e03030" stroke-width="1.2" fill="none"/>
<g fill="#a6eef8" stroke="#1c3440" stroke-width="1"><circle cx="149.4" cy="390" r="6"/><circle cx="185" cy="404.4" r="6"/><circle cx="222.5" cy="421.2" r="6"/></g>
<g stroke="#3b3bb0" stroke-width="1" stroke-dasharray="2 1.2"><line x1="149.4" y1="384" x2="149.4" y2="396"/><line x1="185" y1="398.4" x2="185" y2="410.4"/><line x1="222.5" y1="415.2" x2="222.5" y2="427.2"/></g>
<circle cx="386.3" cy="364.4" r="7.2" fill="#fff" stroke="#222" stroke-width="1"/>
<radialGradient id="gg" cx="0.45" cy="0.5" r="0.6"><stop offset="0" stop-color="#d6f030"/><stop offset="0.6" stop-color="#a8ee90"/><stop offset="1" stop-color="#b8f4e0"/></radialGradient>
<path d="M380.5,362 Q382,358.3 386,358.2 Q389.5,358.5 389.8,361.5 L389.8,366 Q386,368.5 381,366.5Z" fill="url(#gg)"/>
<path d="M389.3,361.5 l1.5,0.8 M389.5,364.5 l1.2,-0.5 M382,367.2 l5,0" stroke="#111" stroke-width="1.1"/>
<g fill="#111"><path d="M147.5,400 Q148.6,398.6 149.7,400 L149.8,402.6 L151.2,403.6 L146,403.6 L147.4,402.6 Z"/><path d="M183.9,417.8 Q185,416.4 186.1,417.8 L186.2,420.4 L187.6,421.4 L182.4,421.4 L183.8,420.4 Z"/><path d="M222.65,432.8 Q223.75,431.4 224.85,432.8 L224.95,435.4 L226.35,436.4 L221.15,436.4 L222.55,435.4 Z"/><path d="M288.9,432.2 Q290,430.8 291.1,432.2 L291.2,434.8 L292.6,435.8 L287.4,435.8 L288.8,434.8 Z"/><path d="M327.65,417.8 Q328.75,416.4 329.85,417.8 L329.95,420.4 L331.35,421.4 L326.15,421.4 L327.55,420.4 Z"/><path d="M364.5,400.2 Q365.6,398.8 366.7,400.2 L366.8,402.8 L368.2,403.8 L363,403.8 L364.4,402.8 Z"/></g>
<path d="M138.5,395.5 L138.5,449 L143.6,454.4 L143.6,392.5" fill="#fff" stroke="#484848" stroke-width="1.1"/><path d="M138.5,395.5 Q138.5,392.5 141.5,391.5" fill="none" stroke="#484848" stroke-width="1.1"/><line x1="142" y1="395.5" x2="142" y2="449" stroke="#999" stroke-width="0.8"/>
<path d="M177.6,413.5 L177.6,465 L181.8,470.6 L181.8,410.5" fill="#fff" stroke="#484848" stroke-width="1.1"/><path d="M177.6,413.5 Q177.6,410.5 180.6,409.5" fill="none" stroke="#484848" stroke-width="1.1"/><line x1="180.2" y1="413.5" x2="180.2" y2="465" stroke="#999" stroke-width="0.8"/>
<path d="M215.5,428.5 L215.5,482.8 L220.6,486 L220.6,425.5" fill="#fff" stroke="#484848" stroke-width="1.1"/><path d="M215.5,428.5 Q215.5,425.5 218.5,424.5" fill="none" stroke="#484848" stroke-width="1.1"/><line x1="219" y1="428.5" x2="219" y2="482.8" stroke="#999" stroke-width="0.8"/>
<path d="M294.5,423 L298.7,427 L298.7,482.8 L294.5,486 Z" fill="#fff" stroke="#484848" stroke-width="1.1"/><line x1="294.5" y1="418" x2="294.5" y2="423" stroke="#777" stroke-width="1"/><line x1="296.1" y1="426" x2="296.1" y2="482.8" stroke="#999" stroke-width="0.8"/>
<path d="M332.7,407.3 L337,411.3 L337,466 L332.7,470 Z" fill="#fff" stroke="#484848" stroke-width="1.1"/><line x1="332.7" y1="404.3" x2="332.7" y2="407.3" stroke="#777" stroke-width="1"/><line x1="334.3" y1="410.3" x2="334.3" y2="466" stroke="#999" stroke-width="0.8"/>
<path d="M371.6,392 L375.7,396 L375.7,449 L371.6,453.8 Z" fill="#fff" stroke="#484848" stroke-width="1.1"/><line x1="373.2" y1="395" x2="373.2" y2="449" stroke="#999" stroke-width="0.8"/>
<g stroke="#1a1a1a" stroke-width="1.1"><line x1="343" y1="325.6" x2="423.5" y2="325.6"/><line x1="380" y1="346.6" x2="423.5" y2="346.6"/><line x1="372.3" y1="382.6" x2="423.5" y2="382.6"/><line x1="343" y1="374" x2="436.4" y2="374"/><line x1="357.5" y1="391.5" x2="430.7" y2="391.5"/><line x1="333" y1="398.5" x2="423.5" y2="398.5"/><line x1="361.6" y1="422" x2="423.5" y2="422"/><line x1="261.7" y1="516" x2="309.2" y2="516"/></g>
<g fill="#1a1a1a"><path d="M380,346.6 l4,-1.3 l0,2.6z"/><path d="M372.3,382.6 l4,-1.3 l0,2.6z"/><path d="M357.5,391.5 l4,-1.3 l0,2.6z"/><path d="M361.6,422 l4,-1.3 l0,2.6z"/><path d="M261.7,516 l4,-1.3 l0,2.6z"/></g>
<g font-family="Liberation Sans" font-weight="bold" font-size="11.4" fill="#e41a22" text-anchor="middle"><text x="426.1" y="330.9">1</text><text x="426.8" y="351.2">2</text><text x="426.8" y="372">3</text><text x="440.2" y="378.8">4</text><text x="426.8" y="387">5</text><text x="434.6" y="395.9">6</text><text x="426.8" y="403.2">7</text><text x="426.8" y="426.8">8</text><text x="313" y="521">9</text></g>
<path d="M237.4,468.4 L263.4,468.4 L263.4,550.2 L237.4,550.2 L237.4,491.7 L221.9,471.4 L237.4,478.7Z" fill="none" stroke="#e04858" stroke-width="1.1"/>
<rect x="247.1" y="478.2" width="10.6" height="64.7" fill="#fff" stroke="#333" stroke-width="1"/><path d="M247.1,478.2 L252.4,481.7 L257.7,478.2 M247.1,542.9 L252.4,538.9 L257.7,542.9 M252.4,481.7 L252.4,538.9 M249.3,479.7 L249.3,541.4 M255.5,479.7 L255.5,541.4" fill="none" stroke="#444" stroke-width="0.8"/>
<line x1="252.4" y1="472.8" x2="252.4" y2="478.2" stroke="#222" stroke-width="0.9"/>
<rect x="50.5" y="482.8" width="118.9" height="128.8" fill="none" stroke="#222" stroke-width="1.1"/>
<line x1="50.5" y1="577.8" x2="169.4" y2="577.8" stroke="#222" stroke-width="1.1"/>
<line x1="50.5" y1="594.7" x2="169.4" y2="594.7" stroke="#222" stroke-width="1.1"/>
<line x1="75.3" y1="577.8" x2="75.3" y2="611.6" stroke="#222" stroke-width="1.1"/>
<rect x="104.7" y="494.8" width="9.7" height="64.2" fill="#fff" stroke="#333" stroke-width="1"/><path d="M104.7,494.8 L109.55,498.3 L114.4,494.8 M104.7,559 L109.55,555 L114.4,559 M109.55,498.3 L109.55,555 M106.9,496.3 L106.9,557.5 M112.2,496.3 L112.2,557.5" fill="none" stroke="#444" stroke-width="0.8"/>
<rect x="114.4" y="494.8" width="6.4" height="64.2" fill="none" stroke="#333" stroke-width="1"/>
<rect x="104.7" y="492.2" width="9.7" height="2.2" fill="#bbb"/>
<text x="110.1" y="491.6" text-anchor="middle" font-family="Liberation Sans" font-weight="bold" font-size="5" fill="#e02020">22</text>
<text transform="translate(115.4,527.2) rotate(90)" text-anchor="middle" font-family="Liberation Sans" font-weight="bold" font-size="6.3" fill="#e02020">200</text>
<g font-family="Liberation Serif" font-size="15" font-weight="bold" fill="#111"><text x="51.4" y="591.5" textLength="22.4" lengthAdjust="spacingAndGlyphs">DIM</text><text x="86.9" y="591.5" textLength="49.7" lengthAdjust="spacingAndGlyphs">22#*200</text><text x="51.4" y="608" textLength="22.4" lengthAdjust="spacingAndGlyphs">QTY</text><text x="86.9" y="608" textLength="19.7" lengthAdjust="spacingAndGlyphs">143</text></g></svg>
</body></html>
